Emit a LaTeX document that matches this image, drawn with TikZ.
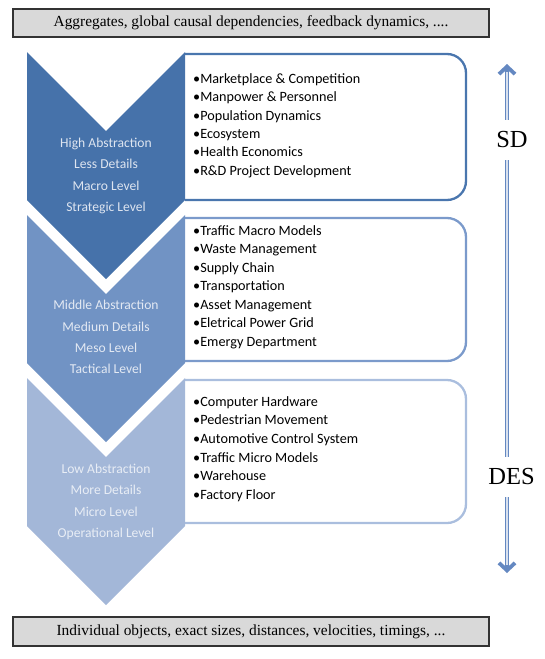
\documentclass[tikz,border=0pt]{standalone}
\usepackage{fontspec}
\setmainfont{Liberation Serif}
\newfontfamily\calib{Carlito}
\usetikzlibrary{arrows.meta}

\definecolor{lvlA}{RGB}{70,114,170}
\definecolor{lvlB}{RGB}{113,147,196}
\definecolor{lvlC}{RGB}{163,183,216}
\definecolor{edgeA}{RGB}{74,118,174}
\definecolor{edgeB}{RGB}{123,154,203}
\definecolor{edgeC}{RGB}{170,190,222}
\definecolor{arrowblue}{RGB}{100,136,193}
\definecolor{bandgray}{RGB}{217,217,217}

\tikzset{
band/.style={draw=black!80, fill=bandgray, line width=1.4pt, minimum width=476pt, minimum height=28pt, font=\fontsize{15.4}{18}\selectfont},
itembox/.style={line width=2.3pt, rounded corners=19pt},
lvltext/.style={font=\calib\fontsize{13.6}{21.3}\selectfont, align=center},
item/.style={font=\calib\fontsize{14.2}{17}\selectfont, anchor=mid west, inner sep=0pt},
scalelab/.style={font=\fontsize{24.5}{28}\selectfont, inner sep=12pt},
shaft/.style={draw=arrowblue, line width=4.6pt},
shaftgap/.style={draw=white!75!arrowblue, line width=1.6pt},
barb/.style={-{Straight Barb[length=7.5pt,width=16pt,line width=3.8pt]}}
}

\begin{document}
\begin{tikzpicture}[x=1pt,y=-1pt]
\useasboundingbox (0,0) rectangle (545,659);

% top and bottom bands
\node[band] (aggr) at (251,23) {Aggregates, global causal dependencies, feedback dynamics, ....};
\node[band, minimum height=29pt] (indiv) at (251,631.5) {Individual objects, exact sizes, distances, velocities, timings, ...};

% item boxes
\foreach \t/\b/\c in {54/200/edgeA, 218/361/edgeB, 380/523/edgeC}{
\draw[draw=\c, itembox] (185,\t) -- (466,\t) -- (466,\b) -- (185,\b);}

% chevrons
\foreach \t/\c in {52/lvlA, 215/lvlB, 378/lvlC}{
\fill[fill=\c] (27,\t) -- (106,{\t+79}) -- (185,\t) -- (185,{\t+148}) -- (106,{\t+227}) -- (27,{\t+148}) -- cycle;}

\node[lvltext, text=white!82!lvlA] (high) at (106,176) {High Abstraction\\Less Details\\Macro Level\\Strategic Level};
\node[lvltext, text=white!80!lvlB] (middle) at (106,337) {Middle Abstraction\\Medium Details\\Meso Level\\Tactical Level};
\node[lvltext, text=white!75!lvlC] (low) at (106,502) {Low Abstraction\\More Details\\Micro Level\\Operational Level};

% items
\foreach \s [count=\i] in {Marketplace \& Competition, Manpower \& Personnel, Population Dynamics, Ecosystem, Health Economics, R\&D Project Development}
\node[item] (hi\i) at (193,{81+18.4*(\i-1)}) {•\s};

\foreach \s [count=\i] in {Traffic Macro Models, Waste Management, Supply Chain, Transportation, Asset Management, Eletrical Power Grid, Emergy Department}
\node[item] (mid\i) at (193,{233+18.5*(\i-1)}) {•\s};

\foreach \s [count=\i] in {Computer Hardware, Pedestrian Movement, Automotive Control System, Traffic Micro Models, Warehouse, Factory Floor}
\node[item] (lo\i) at (193,{404+18.6*(\i-1)}) {•\s};

% SD / DES scale
\coordinate (uptip) at (507,64);
\coordinate (downtip) at (507,573);
\node[scalelab] (sdlab) at (512,140) {SD};
\node[scalelab] (deslab) at (511.5,477) {DES};

\draw[shaft, barb] (uptip |- sdlab.north) -- (uptip);
\draw[shaftgap, shorten >=8pt] (uptip |- sdlab.north) -- (uptip);
\draw[shaft] (uptip |- sdlab.south) -- (uptip |- deslab.north);
\draw[shaftgap] (uptip |- sdlab.south) -- (uptip |- deslab.north);
\draw[shaft, barb] (downtip |- deslab.south) -- (downtip);
\draw[shaftgap, shorten >=8pt] (downtip |- deslab.south) -- (downtip);
\end{tikzpicture}
\end{document}
